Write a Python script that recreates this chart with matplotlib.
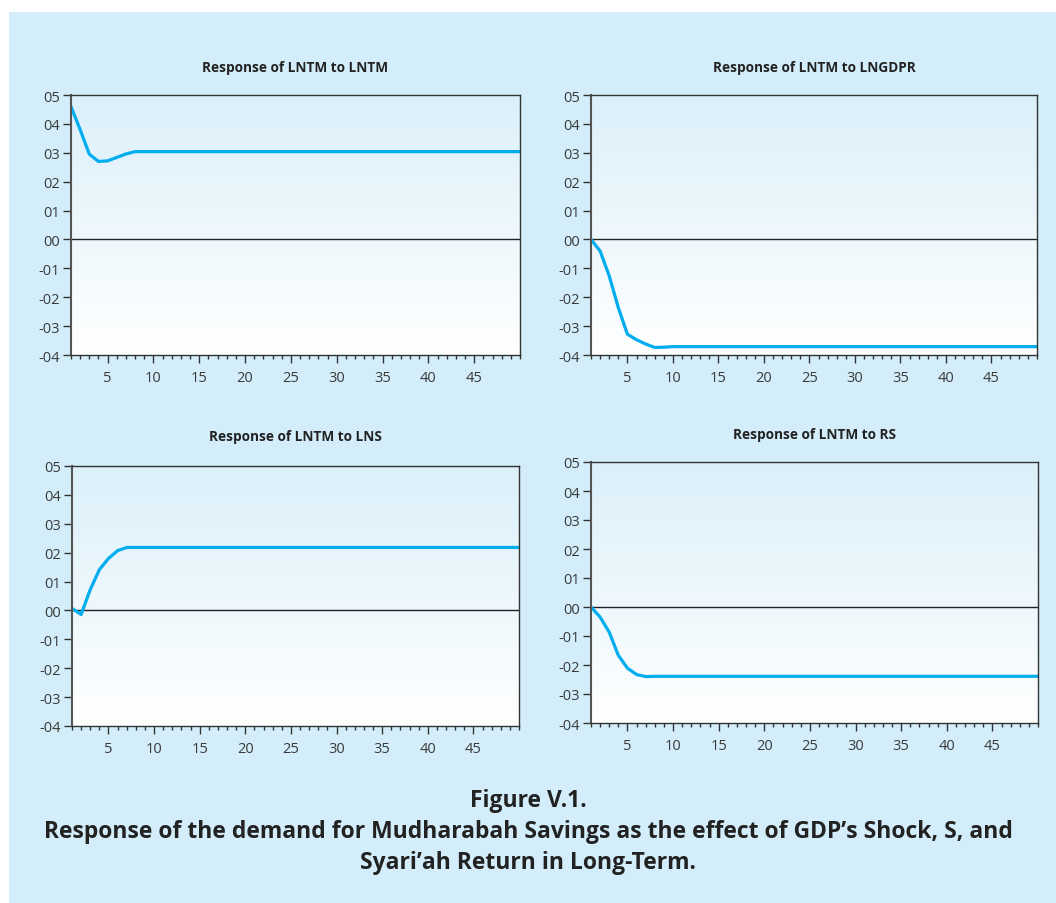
import numpy as np
import matplotlib
matplotlib.use('Agg')
import matplotlib.pyplot as plt
from matplotlib.ticker import MultipleLocator, FixedLocator

plt.rcParams['font.family'] = ['Open Sans', 'DejaVu Sans']

# Impulse responses (periods 1..50)
periods = list(range(1, 51))
titles = ['Response of LNTM to LNTM', 'Response of LNTM to LNGDPR',
          'Response of LNTM to LNS', 'Response of LNTM to RS']

# first periods, then the value the response settles at
lntm_head = [0.0460, 0.0380, 0.0295, 0.0270, 0.0272, 0.0284, 0.0296, 0.0304]
lntm_tail = 0.0304
lngdpr_head = [0.0000, -0.0040, -0.0126, -0.0236, -0.0328, -0.0347, -0.0362, -0.0374, -0.0373]
lngdpr_tail = -0.0371
lns_head = [0.0007, -0.0014, 0.0072, 0.0141, 0.0180, 0.0207, 0.0218]
lns_tail = 0.0218
rs_head = [0.0000, -0.0035, -0.0087, -0.0167, -0.0211, -0.0233, -0.0240]
rs_tail = -0.0239

heads = [lntm_head, lngdpr_head, lns_head, rs_head]
tails = [lntm_tail, lngdpr_tail, lns_tail, rs_tail]

ytick_vals = [0.05, 0.04, 0.03, 0.02, 0.01, 0.0, -0.01, -0.02, -0.03, -0.04]
ytick_labels = ['05', '04', '03', '02', '01', '00', '-01', '-02', '-03', '-04']
xtick_vals = [5, 10, 15, 20, 25, 30, 35, 40, 45]

caption = ('Figure V.1.\n'
           'Response of the demand for Mudharabah Savings as the effect of GDP\u2019s Shock, S, and\n'
           'Syari\u2019ah Return in Long-Term.')

W, H = 1056, 904
fig = plt.figure(figsize=(W / 100, H / 100), dpi=100)
fig.patch.set_facecolor('white')

# light blue panel behind everything
bg = fig.add_axes([9 / W, 0, 1 - 9 / W, 1 - 13 / H])
bg.set_facecolor('#d3eefa')
bg.set_xticks([])
bg.set_yticks([])
for s in bg.spines.values():
    s.set_visible(False)
bg.set_zorder(-10)

# axes boxes in pixels: left, top, right, bottom
boxes = [(71, 96, 520, 356), (591, 96, 1037, 356),
         (72, 467, 519, 727), (591, 463, 1038, 724)]
title_pads = [17, 17, 18.5, 17]

grad = np.linspace(0, 1, 256).reshape(-1, 1)
top_c = np.array([0.86, 0.94, 0.98])
bot_c = np.array([1.0, 1.0, 1.0])
grad_img = top_c + (bot_c - top_c) * grad[:, :, None] * np.ones((1, 1, 3))

for i, (l, t, r, b) in enumerate(boxes):
    ax = fig.add_axes([l / W, 1 - b / H, (r - l) / W, (b - t) / H])
    ax.imshow(grad_img, extent=[0, 1, 0, 1], transform=ax.transAxes,
              aspect='auto', zorder=0)
    head = heads[i]
    vals = head + [tails[i]] * (len(periods) - len(head))
    ax.axhline(0, color='#222222', lw=1.0, zorder=1)
    ax.plot(periods, vals, color='#00aeef', lw=2.3, zorder=2,
            solid_joinstyle='round')
    ax.set_xlim(1, 50)
    ax.set_ylim(-0.04, 0.05)
    ax.set_yticks(ytick_vals)
    ax.set_yticklabels(ytick_labels)
    ax.xaxis.set_major_locator(FixedLocator(xtick_vals))
    ax.xaxis.set_minor_locator(MultipleLocator(1))
    ax.tick_params(axis='both', which='major', direction='out', length=6,
                   width=1, color='#333333', labelsize=10.5, labelcolor='#3a3a3a')
    ax.tick_params(axis='x', which='minor', direction='out', length=3,
                   width=1, color='#333333')
    ax.tick_params(axis='x', pad=5)
    ax.tick_params(axis='y', pad=2)
    for s in ax.spines.values():
        s.set_color('#333333')
        s.set_linewidth(1.0)
    ax.spines['left'].set_color('#555555')
    ax.spines['left'].set_linewidth(1.5)
    ax.set_title(titles[i], fontsize=9.8, fontweight='bold', color='#222222',
                 pad=title_pads[i])

fig.text(0.5, 1 - 832 / H, caption, ha='center', va='center', fontsize=16.5,
         fontweight='bold', color='#222222', linespacing=1.4)

fig.savefig('out.png', dpi=100, facecolor=fig.get_facecolor())
